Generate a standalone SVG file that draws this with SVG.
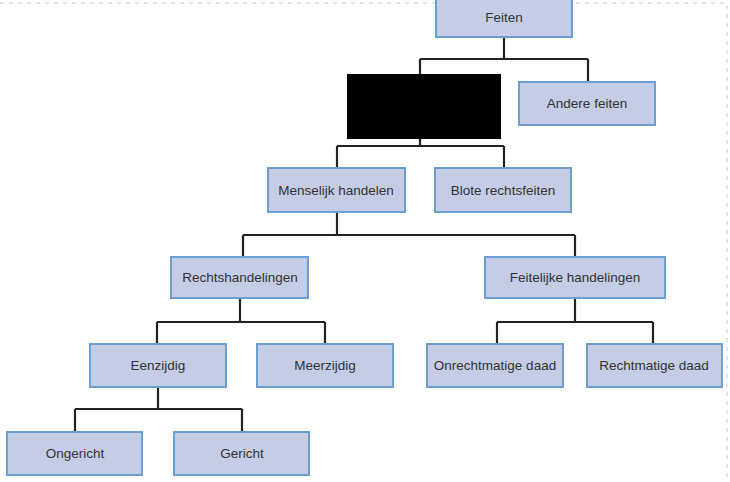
<svg xmlns="http://www.w3.org/2000/svg" width="730" height="482" viewBox="0 0 730 482">
<style>
.n rect{fill:#c4cce6;stroke:#6b9fd1;stroke-width:2}
.n text{font-family:"Liberation Sans Narrow","Liberation Sans",Arial,sans-serif;font-size:13.5px;fill:#333;text-anchor:middle;dominant-baseline:central}
#connectors path{fill:none;stroke:#222;stroke-width:2.2}
</style>
<rect width="730" height="482" fill="#fff"/>
<path d="M0 3H727V482" fill="none" stroke="#ddd" stroke-width="1.5" stroke-dasharray="4 5"/>
<g id="connectors">
<path d="M504 37V59M420 59H588M420 59V74M588 59V82"/>
<path d="M420 139V146M337 146H504M337 146V168M504 146V168"/>
<path d="M337 212V235M243 235H575M243 235V257M575 235V257"/>
<path d="M240 298V322M157 322H325M157 322V344M325 322V344"/>
<path d="M575 298V322M497 322H653M497 322V344M653 322V344"/>
<path d="M158 387V409M75 409H242M75 409V432M242 409V432"/>
</g>
<g id="feiten" class="n"><rect x="436" y="-2" width="136" height="39"/><text x="504" y="17">Feiten</text></g>
<g id="redacted"><rect x="347" y="74" width="154" height="65" fill="#000"/></g>
<g id="andere" class="n"><rect x="519" y="82" width="136" height="43"/><text x="587" y="103">Andere feiten</text></g>
<g id="menselijk" class="n"><rect x="268" y="168" width="137" height="44"/><text x="336" y="190">Menselijk handelen</text></g>
<g id="blote" class="n"><rect x="435" y="168" width="136" height="44"/><text x="503" y="190">Blote rechtsfeiten</text></g>
<g id="rechtshandelingen" class="n"><rect x="171" y="257" width="137" height="41"/><text x="240" y="277">Rechtshandelingen</text></g>
<g id="feitelijke" class="n"><rect x="485" y="257" width="180" height="41"/><text x="575" y="277">Feitelijke handelingen</text></g>
<g id="eenzijdig" class="n"><rect x="90" y="344" width="136" height="43"/><text x="158" y="365">Eenzijdig</text></g>
<g id="meerzijdig" class="n"><rect x="257" y="344" width="136" height="43"/><text x="325" y="365">Meerzijdig</text></g>
<g id="onrechtmatig" class="n"><rect x="427" y="344" width="136" height="43"/><text x="495" y="365">Onrechtmatige daad</text></g>
<g id="rechtmatig" class="n"><rect x="587" y="344" width="135" height="43"/><text x="654" y="365">Rechtmatige daad</text></g>
<g id="ongericht" class="n"><rect x="7" y="432" width="135" height="43"/><text x="75" y="453">Ongericht</text></g>
<g id="gericht" class="n"><rect x="174" y="432" width="135" height="43"/><text x="242" y="453">Gericht</text></g>
</svg>
